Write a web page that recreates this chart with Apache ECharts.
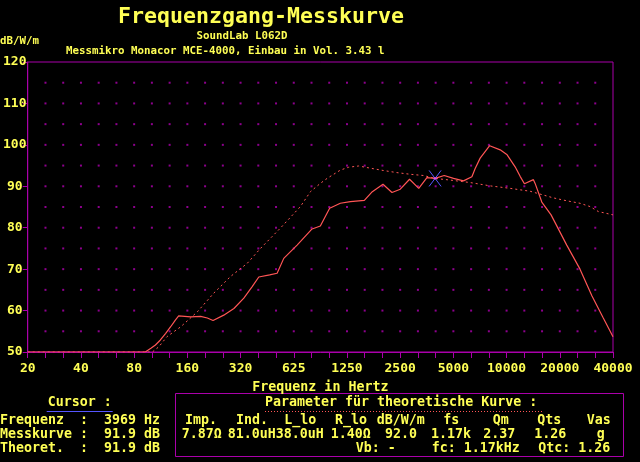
<!DOCTYPE html>
<html><head><meta charset="utf-8">
<script src="https://cdn.jsdelivr.net/npm/echarts@6/dist/echarts.min.js"></script>
<style>html,body{margin:0;padding:0;background:#000;}#c{width:640px;height:462px;}</style>
</head><body><div id="c"></div><script>
// ---- data ----
const xTickLabels = ['20','40','80','160','320','625','1250','2500','5000','10000','20000','40000'];
const measFreq = [20, 92, 99, 105, 112, 120, 128, 136, 142, 166, 189, 206, 222, 255, 291, 331, 369, 402, 463, 510, 556, 661, 803, 894, 1009, 1159, 1320, 1583, 1756, 2017, 2267, 2525, 2848, 3209, 3570, 3969, 4468, 5042, 5740, 6400, 6678, 7126, 8062, 9238, 10116, 11222, 11974, 12661, 14228, 14546, 15866, 17898, 21936, 26060, 30450, 35260, 40000];
const measDb   = [50, 50, 50.9, 51.7, 52.9, 54.5, 56.1, 57.7, 58.7, 58.5, 58.6, 58.2, 57.6, 58.9, 60.5, 63.0, 65.8, 68.1, 68.6, 69.0, 72.6, 75.8, 79.7, 80.4, 84.7, 85.9, 86.3, 86.6, 88.7, 90.5, 88.5, 89.3, 91.7, 89.5, 92.1, 91.9, 92.6, 91.9, 91.3, 92.3, 94.3, 96.8, 99.8, 98.8, 97.6, 94.7, 92.4, 90.6, 91.6, 90.7, 86.2, 83.1, 75.8, 70.0, 63.5, 58.2, 53.7];
const theoFreq = [20, 101, 110, 122, 146, 181, 224, 278, 346, 411, 532, 690, 786, 894, 976, 1159, 1291, 1470, 1749, 2033, 2418, 2874, 3416, 3969, 4830, 6262, 8115, 10518, 13634, 18440, 21936, 26060, 29700, 33080, 40000];
const theoDb   = [50, 50, 51.3, 53.7, 56.1, 59.7, 64.2, 68.2, 71.4, 75.0, 79.9, 85.1, 88.7, 90.7, 91.9, 93.9, 94.6, 94.9, 94.3, 93.8, 93.3, 92.9, 92.6, 91.9, 91.5, 90.9, 90.1, 89.5, 88.8, 87.2, 86.5, 85.9, 85.1, 83.9, 83.1];
const cursorFreq = 3969, cursorMeasDb = 91.9, cursorTheoDb = 91.9;

// ---- presentation ----
const F_MIN = 20, F_MAX = 40000, THIRDS = 33;
function pos(f){ return THIRDS * Math.log(f / F_MIN) / Math.log(F_MAX / F_MIN); }
const YEL = '#ffff55', MAG = '#aa00aa', RED = '#ff5555', BLUE = '#5555ff';
const MONO = "'DejaVu Sans Mono', 'Liberation Mono', monospace";
const f = (s) => 'bold ' + s + 'px ' + MONO;

const dots = [];
for (let i = 1; i < THIRDS; i++) for (let v = 55; v < 120; v += 5) dots.push([i, v]);

function txt(text, x, y, size, align, color) {
  return { type: 'text', silent: true, style: {
    text: text, x: x, y: y, fill: color || YEL, font: f(size),
    align: align || 'left', textAlign: align || 'left',
    verticalAlign: 'middle', textVerticalAlign: 'middle' } };
}
const B = 13.3;
const graphics = [
  txt('Frequenzgang-Messkurve', 261, 17, 21.6, 'center'),
  txt('SoundLab L062D', 242, 36, 10.8, 'center'),
  txt('dB/W/m', 0, 41, 10.8),
  txt('Messmikro Monacor MCE-4000, Einbau in Vol. 3.43 l', 66, 51, 10.8),
  txt('Cursor :', 47.7, 403, B),
  { type: 'line', silent: true, shape: { x1: 46.7, y1: 411.5, x2: 112.7, y2: 411.5 }, style: { stroke: BLUE, lineWidth: 1 } },
  txt('Frequenz  :  ' + cursorFreq + ' Hz', 0, 421, B),
  txt('Messkurve :  ' + cursorMeasDb.toFixed(1) + ' dB', 0, 435, B),
  txt('Theoret.  :  ' + cursorTheoDb.toFixed(1) + ' dB', 0, 449, B),
  { type: 'rect', silent: true, shape: { x: 175.5, y: 393.5, width: 448, height: 63 }, style: { stroke: MAG, fill: null, lineWidth: 1 } },
  txt('Parameter für theoretische Kurve :', 265, 403, B),
  { type: 'line', silent: true, shape: { x1: 265, y1: 411.5, x2: 542, y2: 411.5 }, style: { stroke: RED, lineWidth: 1, lineDash: [1, 2] } },
  txt('Imp.', 185, 421, B), txt('Ind.', 236, 421, B), txt('L_lo', 284.3, 421, B), txt('R_lo', 335, 421, B),
  txt('dB/W/m', 376.7, 421, B), txt('fs', 443.3, 421, B), txt('Qm', 492.7, 421, B), txt('Qts', 537.3, 421, B), txt('Vas', 586.7, 421, B),
  txt('7.87Ω', 181.7, 435, B), txt('81.0uH38.0uH', 227.7, 435, B), txt('1.40Ω', 330.7, 435, B), txt('92.0', 385, 435, B),
  txt('1.17k', 431, 435, B), txt('2.37', 483.3, 435, B), txt('1.26', 534.3, 435, B), txt('g', 596.7, 435, B),
  txt('Vb: -', 355.7, 449, B), txt('fc: 1.17kHz', 431.7, 449, B), txt('Qtc: 1.26', 538.3, 449, B)
];

const chart = echarts.init(document.getElementById('c'), null, { renderer: 'canvas' });
chart.setOption({
  backgroundColor: '#000',
  animation: false,
  grid: { left: 27, right: 27, top: 62, bottom: 110, show: true, borderColor: MAG, borderWidth: 1, backgroundColor: 'transparent' },
  xAxis: {
    type: 'value', min: 0, max: THIRDS, interval: 1,
    axisLine: { show: true, onZero: false, lineStyle: { color: MAG, width: 1 } },
    axisTick: { show: true, length: 6, lineStyle: { color: MAG } },
    splitLine: { show: false },
    axisLabel: { color: YEL, fontFamily: MONO, fontWeight: 'bold', fontSize: 13, margin: 10,
      formatter: (v) => (Math.round(v) % 3 === 0 ? xTickLabels[Math.round(v) / 3] : '') },
    name: 'Frequenz in Hertz', nameLocation: 'middle', nameGap: 29,
    nameTextStyle: { color: YEL, fontFamily: MONO, fontWeight: 'bold', fontSize: 13.3 }
  },
  yAxis: {
    type: 'value', min: 50, max: 120, interval: 10,
    axisLine: { show: true, lineStyle: { color: MAG, width: 1 } },
    axisTick: { show: true, length: 5, lineStyle: { color: MAG } },
    splitLine: { show: false },
    axisLabel: { color: YEL, fontFamily: MONO, fontWeight: 'bold', fontSize: 13, margin: 13, align: 'center' }
  },
  graphic: graphics,
  series: [
    { type: 'scatter', silent: true, symbol: 'rect', symbolSize: 2, itemStyle: { color: '#b000b0' }, data: dots, z: 1 },
    { type: 'line', silent: true, showSymbol: false, z: 3,
      lineStyle: { color: RED, width: 1, type: [2, 3] },
      data: theoFreq.map((fr, i) => [pos(fr), theoDb[i]]) },
    { type: 'line', silent: true, showSymbol: false, z: 4,
      lineStyle: { color: RED, width: 1.2 },
      data: measFreq.map((fr, i) => [pos(fr), measDb[i]]) },
    { type: 'custom', silent: true, z: 5, data: [[pos(cursorFreq), cursorMeasDb]],
      renderItem: (params, api) => {
        const p = api.coord([api.value(0), api.value(1)]);
        return { type: 'group', children: [
          { type: 'line', shape: { x1: p[0] - 6, y1: p[1] - 8, x2: p[0] + 6, y2: p[1] + 8 }, style: { stroke: BLUE, lineWidth: 1 } },
          { type: 'line', shape: { x1: p[0] + 6, y1: p[1] - 8, x2: p[0] - 6, y2: p[1] + 8 }, style: { stroke: BLUE, lineWidth: 1 } },
          { type: 'rect', shape: { x: p[0] - 1.5, y: p[1] - 1, width: 3, height: 2 }, style: { fill: '#dd55dd' } }
        ] };
      } }
  ]
});
</script></body></html>
